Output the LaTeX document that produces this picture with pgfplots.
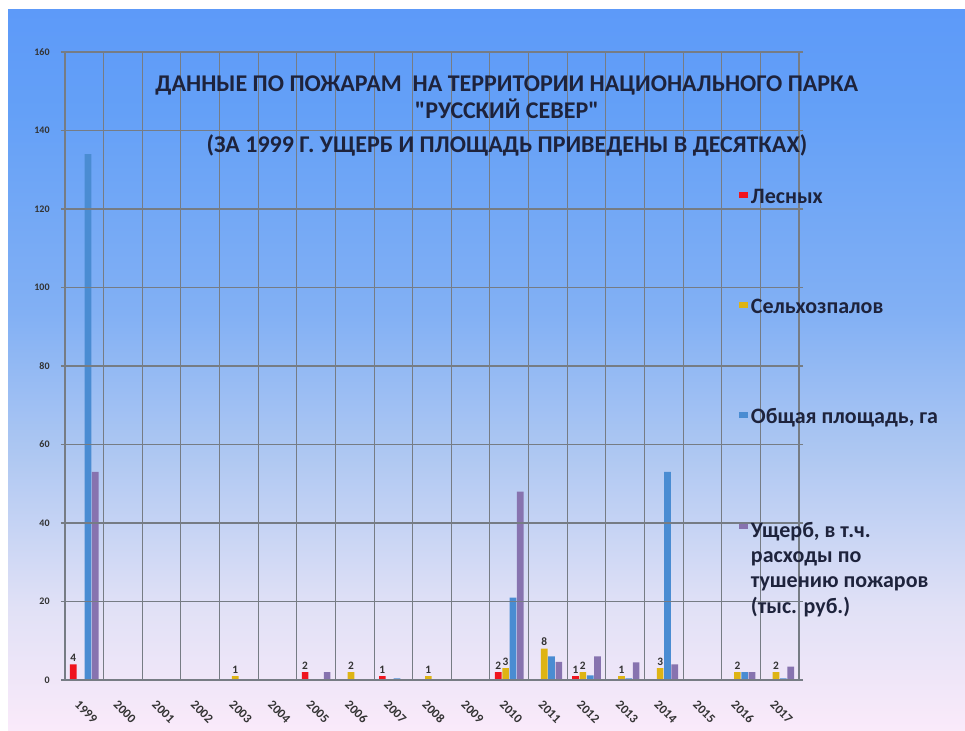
\documentclass[border=0pt]{standalone}
\usepackage{fontspec}
\setmainfont{Carlito}[Ligatures=TeXOff]
\usepackage{pgfplots}
\pgfplotsset{compat=1.18}
\definecolor{cRed}{RGB}{240,20,30}
\definecolor{cGold}{RGB}{222,180,20}
\definecolor{cBlue}{RGB}{74,140,210}
\definecolor{cPurple}{RGB}{135,115,175}
\definecolor{bg0}{RGB}{250,234,250}
\definecolor{bg1}{RGB}{225,225,246}
\definecolor{bg2}{RGB}{175,200,242}
\definecolor{bg3}{RGB}{130,176,244}
\definecolor{bg4}{RGB}{100,160,247}
\definecolor{bg5}{RGB}{93,154,249}
\definecolor{gridc}{RGB}{118,124,132}
\definecolor{txt}{RGB}{30,35,60}
\pgfdeclareverticalshading{bgshade}{100bp}{color(0bp)=(bg0); color(25bp)=(bg0); color(33.5bp)=(bg1); color(44bp)=(bg2); color(54bp)=(bg3); color(68bp)=(bg4); color(75bp)=(bg5); color(100bp)=(bg5)}
\pgfplotsset{sqlegend/.style={legend image code/.code={\fill[##1] (0em,-0.02em) rectangle (0.72em,0.42em);}}}
\begin{document}
\begin{tikzpicture}[x=0.75pt,y=0.75pt]
\fill[white] (0,0) rectangle (965,731);
\shade[shading=bgshade] (8,0) rectangle (965,721);
\begin{axis}[
  at={(48.75pt,38.25pt)}, anchor=south west,
  scale only axis, width=550.5pt, height=471pt,
  xmin=-0.5, xmax=18.5, ymin=0, ymax=160,
  axis on top,
  axis line style={gridc, line width=0.8pt},
  xtick={0,...,18},
  xticklabels={1999,2000,2001,2002,2003,2004,2005,2006,2007,2008,2009,2010,2011,2012,2013,2014,2015,2016,2017},
  minor xtick={-0.5,0.5,...,18.5},
  xminorgrids=true, xmajorgrids=false,
  minor x grid style={gridc, line width=0.8pt},
  major x tick style={draw=none},
  minor x tick style={draw=none},
  ytick={0,20,...,160},
  ymajorgrids=true,
  major y grid style={gridc, line width=0.8pt},
  y tick style={gridc, line width=0.8pt},
  tick align=outside,
  major tick length=3pt,
  /pgf/number format/assume math mode=true,
  yticklabel style={font=\bfseries\fontsize{7.5}{9}\selectfont, text=black!80, xshift=-5pt},
  xticklabel style={font=\bfseries\fontsize{9.5}{11}\selectfont, text=black!80, rotate=-45, anchor=north west, xshift=2.5pt, yshift=-7pt},
  title={ДАННЫЕ ПО ПОЖАРАМ\ \ НА ТЕРРИТОРИИ НАЦИОНАЛЬНОГО ПАРКА\\"РУССКИЙ СЕВЕР"\\[5.5pt](ЗА 1999 Г. УЩЕРБ И ПЛОЩАДЬ ПРИВЕДЕНЫ В ДЕСЯТКАХ)},
  title style={at={(0.602,0.957)}, anchor=north, align=center, font=\bfseries\fontsize{18}{20}\selectfont, text=txt},
  legend style={at={(0.912,0.79)}, anchor=north west, draw=none, fill=none,
    font=\bfseries\fontsize{16.5}{19}\selectfont, text=txt, row sep=66pt,
    cells={anchor=base west}},
  legend cell align=left,
  nodes near coords style={font=\bfseries\fontsize{8.5}{10}\selectfont, text=black!80, inner sep=2pt},
]
\addplot[ybar, sqlegend, bar width=5pt, bar shift=-8.25pt, fill=cRed, draw=none,
  nodes near coords, point meta=y, every node near coord/.append style={xshift=-8.25pt}]
  coordinates {(0,4) (6,2) (8,1) (11,2) (13,1)};
\addlegendentry{Лесных}
\addplot[ybar, sqlegend, bar width=5pt, bar shift=-2.75pt, fill=cGold, draw=none,
  nodes near coords, point meta=y, every node near coord/.append style={xshift=-2.75pt}]
  coordinates {(4,1) (7,2) (9,1) (11,3) (12,8) (13,2) (14,1) (15,3) (17,2) (18,2)};
\addlegendentry{Сельхозпалов}
\addplot[ybar, sqlegend, bar width=5pt, bar shift=2.75pt, fill=cBlue, draw=none]
  coordinates {(0,134) (8,0.4) (11,21) (12,6) (13,1.2) (14,0.4) (15,53) (17,2) (18,0.4)};
\addlegendentry{Общая площадь, га}
\addplot[ybar, sqlegend, bar width=5pt, bar shift=8.25pt, fill=cPurple, draw=none]
  coordinates {(0,53) (6,2) (11,48) (12,4.6) (13,6) (14,4.5) (15,4) (17,2) (18,3.4)};
\addlegendentry{\begin{tabular}[t]{@{}l@{}}Ущерб, в т.ч.\\расходы по\\тушению пожаров\\(тыс. руб.)\end{tabular}}
\end{axis}
\end{tikzpicture}
\end{document}
